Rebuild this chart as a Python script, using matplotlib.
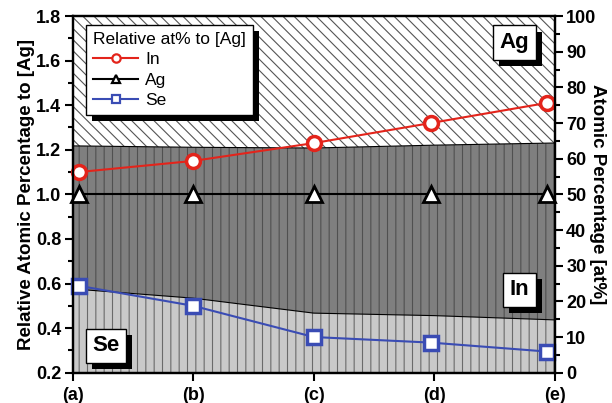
import numpy as np
import matplotlib
matplotlib.use('Agg')
import matplotlib.pyplot as plt
import matplotlib.patheffects as pe

plt.rcParams['font.family'] = ['Liberation Sans', 'DejaVu Sans']
plt.rcParams['hatch.linewidth'] = 0.8

# samples and positions along the x axis
samples = ['(a)', '(b)', '(c)', '(d)', '(e)']
x_pos = [0.05, 1.0, 2.0, 2.97, 3.93]

# relative at% to [Ag] (left axis)
rel_in = [1.10, 1.15, 1.23, 1.32, 1.41]
rel_ag = [1.00, 1.00, 1.00, 1.00, 1.00]
rel_se = [0.59, 0.50, 0.36, 0.335, 0.295]

# cumulative atomic percentage boundaries (right axis)
area_x = [0, 1, 2, 3, 4]
se_top = [23.5, 20.9, 16.7, 16.0, 14.8]
in_top = [63.6, 63.2, 63.0, 63.8, 64.4]

fig = plt.figure(figsize=(6.12, 4.03), dpi=100)
ax = fig.add_axes([0.1185, 0.0752, 0.7885, 0.885])
ax2 = ax.twinx()
ax.set_zorder(ax2.get_zorder() + 1)
ax.patch.set_visible(False)

# stacked areas on the at% axis
ax2.fill_between(area_x, 0, se_top, facecolor='#c9c9c9', edgecolor='#6a6a6a',
                 hatch='||', lw=0)
ax2.fill_between(area_x, se_top, in_top, facecolor='#7f7f7f', edgecolor='#505050',
                 hatch='||', lw=0)
ax2.fill_between(area_x, in_top, 100, facecolor='white', edgecolor='#555555',
                 hatch='\\\\\\', lw=0)
ax2.plot(area_x, se_top, color='black', lw=0.8)
ax2.plot(area_x, in_top, color='black', lw=0.8)
ax2.set_ylim(0, 100)
ax2.set_xlim(0, 4)

# relative lines
ax.plot(x_pos, rel_in, color='#e3241b', lw=1.5, marker='o', ms=10,
        mfc='white', mec='#e3241b', mew=2.5, label='In', clip_on=False)
ax.plot(x_pos, rel_ag, color='black', lw=1.5, marker='^', ms=12,
        mfc='white', mec='black', mew=2, label='Ag', clip_on=False)
ax.plot(x_pos, rel_se, color='#3a4cb4', lw=1.5, marker='s', ms=10,
        mfc='white', mec='#3a4cb4', mew=2.5, label='Se', clip_on=False)
ax.set_xlim(0, 4)
ax.set_ylim(0.2, 1.8)

ax.set_xticks(range(5))
ax.set_xticklabels(samples)
ax.set_yticks(np.arange(0.2, 1.81, 0.2))
ax.set_yticks(np.arange(0.3, 1.8, 0.2), minor=True)
ax2.set_yticks(np.arange(0, 101, 10))
ax2.set_yticks(np.arange(5, 100, 10), minor=True)

for a in (ax, ax2):
    a.tick_params(which='major', direction='out', length=6, width=1.5,
                  labelsize=13, pad=2)
    a.tick_params(which='minor', direction='out', length=3.5, width=1.5)
    for s in a.spines.values():
        s.set_linewidth(1.6)
    for lab in a.get_xticklabels() + a.get_yticklabels():
        lab.set_fontweight('bold')
ax.tick_params(axis='x', pad=4)

ax.set_ylabel('Relative Atomic Percentage to [Ag]', fontsize=13.5,
              fontweight='bold', labelpad=1)
ax2.set_ylabel('Atomic Percentage [at%]', fontsize=13.5, fontweight='bold',
               rotation=-90, labelpad=7)

shadow = [pe.SimplePatchShadow(offset=(4.5, -4.5), shadow_rgbFace='black', alpha=1),
          pe.Normal()]

leg = ax.legend(title='Relative at% to [Ag]', loc='upper left',
                bbox_to_anchor=(0.028, 0.975), fontsize=12.5, title_fontsize=12.5,
                frameon=True, fancybox=False, framealpha=1, edgecolor='black',
                handlelength=2.6, borderpad=0.4, labelspacing=0.3,
                handletextpad=0.4, borderaxespad=0)
leg.get_frame().set_linewidth(1.0)
leg.get_frame().set_path_effects(shadow)
leg._legend_box.align = 'left'
for h in leg.legend_handles:
    h.set_markersize(6)
    h.set_markeredgewidth(1.6)

for label, xx, yy in [('Ag', 0.916, 0.926), ('In', 0.926, 0.232), ('Se', 0.069, 0.075)]:
    t = ax.text(xx, yy, label, transform=ax.transAxes, fontsize=16,
                fontweight='bold', ha='center', va='center',
                bbox=dict(boxstyle='square,pad=0.3', fc='white', ec='black', lw=1))
    t.get_bbox_patch().set_path_effects(shadow)

fig.savefig('out.png', dpi=100)
